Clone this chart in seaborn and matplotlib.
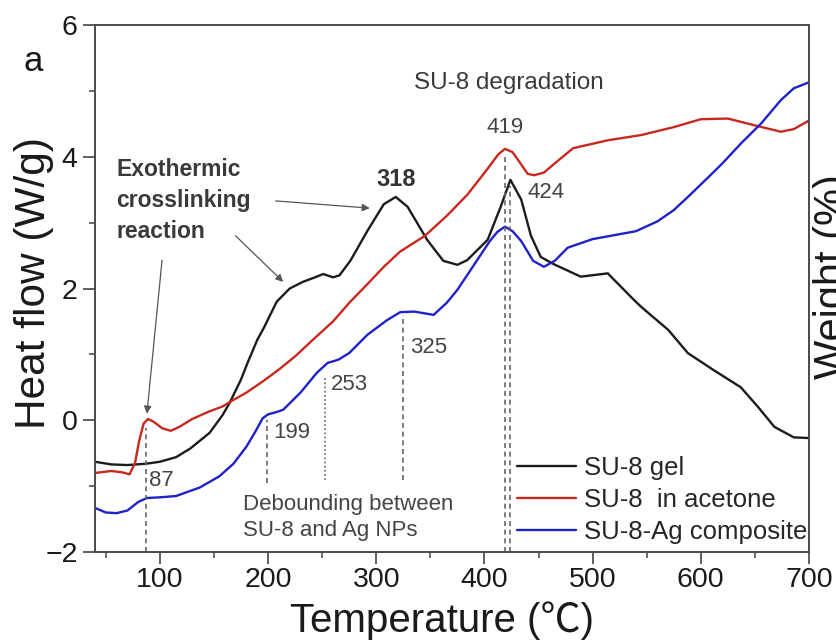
import numpy as np
import pandas as pd
import matplotlib
matplotlib.use("Agg")
import matplotlib.pyplot as plt
from matplotlib.ticker import MultipleLocator
import seaborn as sns

# DSC traces: temperature (°C) and heat flow (W/g) for each sample
temp_gel = [40, 55, 70, 87, 100, 115, 128, 146, 158, 165, 175, 181, 190, 196, 208,
            220, 232, 245, 251, 260, 266, 276, 292, 307, 318, 329, 347, 362, 375,
            384, 403, 415, 424, 434, 443, 452, 464, 489, 514, 538, 545, 570, 588,
            612, 637, 653, 668, 686, 700]
flow_gel = [-0.63, -0.67, -0.68, -0.66, -0.63, -0.56, -0.43, -0.19, 0.08, 0.28, 0.62,
            0.87, 1.22, 1.40, 1.80, 2.00, 2.10, 2.18, 2.22, 2.17, 2.20, 2.42, 2.88,
            3.28, 3.39, 3.24, 2.74, 2.42, 2.36, 2.43, 2.74, 3.24, 3.65, 3.35, 2.80,
            2.48, 2.37, 2.18, 2.23, 1.83, 1.72, 1.37, 1.02, 0.76, 0.50, 0.20, -0.10,
            -0.26, -0.27]

temp_acetone = [40, 55, 65, 72, 77, 81, 85, 89, 94, 102, 110, 118, 130, 145, 158, 165,
                180, 196, 210, 225, 240, 260, 276, 292, 307, 322, 345, 365, 384, 403,
                413, 419, 426, 432, 440, 446, 455, 465, 482, 514, 545, 575, 600, 625,
                649, 674, 686, 700]
flow_acetone = [-0.80, -0.77, -0.79, -0.82, -0.65, -0.30, -0.05, 0.02, -0.02, -0.12,
                -0.16, -0.10, 0.02, 0.13, 0.21, 0.28, 0.42, 0.60, 0.77, 0.97, 1.20,
                1.50, 1.80, 2.07, 2.33, 2.56, 2.80, 3.10, 3.42, 3.82, 4.04, 4.12,
                4.07, 3.93, 3.74, 3.72, 3.76, 3.90, 4.13, 4.25, 4.33, 4.45, 4.57,
                4.58, 4.48, 4.38, 4.42, 4.55]

temp_ag = [40, 50, 60, 70, 80, 88, 100, 115, 137, 155, 168, 180, 188, 195, 200, 207,
           214, 230, 245, 255, 265, 275, 292, 310, 322, 335, 353, 365, 375, 390, 405,
           412, 419, 426, 434, 445, 455, 465, 477, 500, 540, 560, 575, 590, 607, 620,
           637, 656, 674, 686, 700]
flow_ag = [-1.33, -1.40, -1.41, -1.37, -1.24, -1.18, -1.17, -1.15, -1.02, -0.85, -0.66,
           -0.40, -0.18, 0.03, 0.09, 0.12, 0.16, 0.42, 0.72, 0.87, 0.92, 1.02, 1.30,
           1.52, 1.64, 1.65, 1.60, 1.78, 1.98, 2.35, 2.72, 2.86, 2.94, 2.87, 2.72,
           2.42, 2.33, 2.42, 2.62, 2.75, 2.87, 3.02, 3.19, 3.42, 3.69, 3.90, 4.20,
           4.51, 4.86, 5.04, 5.13]

samples = ["SU-8 gel", "SU-8  in acetone", "SU-8-Ag composite"]
colors = ["#1c1c1c", "#c8281e", "#1e22c8"]

# marked transition temperatures (°C)
peak_crosslink = 318
peak_acetone = 419
peak_gel = 424
debond_temps = [87, 199, 253, 325]

x_ticks = [100, 200, 300, 400, 500, 600, 700]
y_ticks = [-2, 0, 2, 4, 6]

df = pd.concat([
    pd.DataFrame({"Temperature": temp_gel, "Heat flow": flow_gel, "Sample": samples[0]}),
    pd.DataFrame({"Temperature": temp_acetone, "Heat flow": flow_acetone, "Sample": samples[1]}),
    pd.DataFrame({"Temperature": temp_ag, "Heat flow": flow_ag, "Sample": samples[2]}),
], ignore_index=True)

sns.set_theme(style="ticks")
plt.rcParams["font.family"] = ["Liberation Sans", "Noto Sans CJK SC", "DejaVu Sans"]

fig = plt.figure(figsize=(8.36, 6.43), dpi=100)
ax = fig.add_axes([0.1136, 0.1415, 0.8541, 0.8196])

sns.lineplot(data=df, x="Temperature", y="Heat flow", hue="Sample",
             palette=dict(zip(samples, colors)), estimator=None, sort=False,
             linewidth=1.7, ax=ax)

ax.set_xlim(40, 700)
ax.set_ylim(-2, 6)
ax.set_xticks(x_ticks)
ax.set_yticks(y_ticks)
ax.xaxis.set_minor_locator(MultipleLocator(50))
ax.yaxis.set_minor_locator(MultipleLocator(1))
ax.tick_params(which="major", direction="out", length=8.5, width=1.2,
               color="#444444", labelsize=20.5, labelcolor="#1a1a1a", pad=4)
ax.tick_params(axis="x", which="major", pad=2.5)
ax.tick_params(which="minor", direction="out", length=4, width=1.1, color="#444444")
for sp in ax.spines.values():
    sp.set_visible(True)
    sp.set_color("#4a4a4a")
    sp.set_linewidth(1.4)

ax.set_xlabel("Temperature (\u2103)", fontsize=29, color="#1a1a1a")
ax.set_ylabel("Heat flow (W/g)", fontsize=30.5, color="#1a1a1a")
ax.xaxis.set_label_coords(0.486, -0.093)
ax.yaxis.set_label_coords(-0.058, 0.51)

# dashed markers at the transition temperatures
dash = (0, (3, 2.2))
vl_kw = dict(color="#666666", linewidth=1.2)
ax.vlines(debond_temps[0], -2, -0.12, linestyles=[dash], **vl_kw)
ax.vlines(debond_temps[1], -0.95, 0.0, linestyles=[dash], **vl_kw)
ax.vlines(debond_temps[2], -0.9, 0.65, linestyles=[(0, (1, 1.5))], **vl_kw)
ax.vlines(debond_temps[3], -0.9, 1.6, linestyles=[dash], **vl_kw)
ax.vlines(peak_acetone, -2, 4.0, linestyles=[dash], **vl_kw)
ax.vlines(peak_gel, -2, 3.55, linestyles=[dash], **vl_kw)

num_kw = dict(fontsize=16, color="#444444")
ax.text(debond_temps[0] + 3, -0.91, f"{debond_temps[0]}", va="center", ha="left", **num_kw)
ax.text(debond_temps[1] + 6, -0.19, f"{debond_temps[1]}", va="center", ha="left", **num_kw)
ax.text(debond_temps[2] + 5, 0.54, f"{debond_temps[2]}", va="center", ha="left", **num_kw)
ax.text(debond_temps[3] + 6, 1.11, f"{debond_temps[3]}", va="center", ha="left", **num_kw)
ax.text(peak_acetone, 4.44, f"{peak_acetone}", va="center", ha="center", **num_kw)
ax.text(peak_gel + 16, 3.45, f"{peak_gel}", va="center", ha="left", **num_kw)
ax.text(peak_crosslink, 3.66, f"{peak_crosslink}", va="center", ha="center",
        fontsize=17, fontweight="bold", color="#333333")

ax.text(335, 5.12, "SU-8 degradation", fontsize=17.5, color="#3a3a3a",
        va="center", ha="left")
ax.text(60, 3.98, "Exothermic\ncrosslinking\nreaction", fontsize=16.5,
        fontweight="bold", color="#3a3a3a", va="top", ha="left", linespacing=1.45)
ax.text(177, -1.12, "Debounding between\nSU-8 and Ag NPs", fontsize=16,
        color="#444444", va="top", ha="left", linespacing=1.3)

arrow_kw = dict(arrowstyle="-|>", color="#555555", lw=0.9, mutation_scale=11,
                shrinkA=0, shrinkB=0)
ax.annotate("", xy=(294, 3.22), xytext=(207, 3.33), arrowprops=arrow_kw)
ax.annotate("", xy=(214, 2.1), xytext=(170, 2.8), arrowprops=arrow_kw)
ax.annotate("", xy=(88, 0.1), xytext=(102, 2.43), arrowprops=arrow_kw)

ax.legend(frameon=False, loc="upper left", bbox_to_anchor=(0.591, 0.183),
          borderaxespad=0, borderpad=0, fontsize=18.5, handlelength=2.3,
          handletextpad=0.32, labelspacing=0.32)

fig.text(0.04, 0.905, "a", fontsize=25, color="#1a1a1a", ha="center", va="center")
fig.text(0.972, 0.57, "Weight (%)", fontsize=30, color="#1a1a1a", rotation=90,
         ha="left", va="center")

fig.savefig("out.png", dpi=100)
